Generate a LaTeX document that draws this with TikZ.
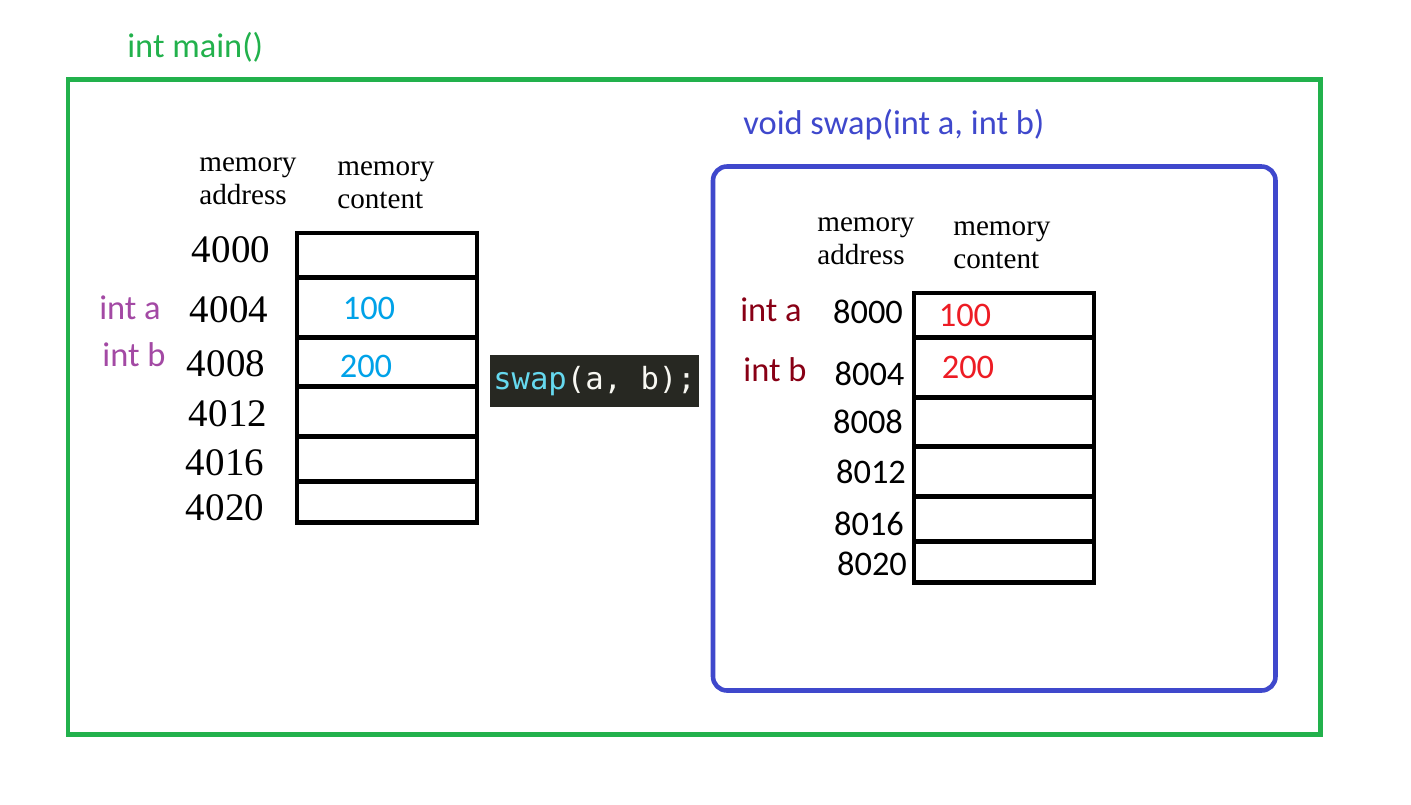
\documentclass[tikz,border=0pt]{standalone}
\usepackage{fontspec}
\setmainfont{Liberation Serif}
\newfontfamily\calibri{Carlito}
\newfontfamily\consolas{DejaVu Sans Mono}
\usetikzlibrary{positioning}

\definecolor{maingreen}{HTML}{22B14C}
\definecolor{swapblue}{HTML}{3F48CC}
\definecolor{varpurple}{HTML}{A349A4}
\definecolor{valblue}{HTML}{00A2E8}
\definecolor{vardarkred}{HTML}{880015}
\definecolor{valred}{HTML}{ED1C24}
\definecolor{codebg}{HTML}{272822}
\definecolor{codecyan}{HTML}{66D9EF}
\definecolor{codewhite}{HTML}{F8F8F2}

\tikzset{
	cellbox/.style={draw, line width=2.6pt, minimum width=3.6cm, inner sep=0pt, outer sep=0pt},
	heading/.style={font=\fontsize{16.6}{18.8}\selectfont, align=left, inner sep=0pt, anchor=west},
	addrserif/.style={font=\fontsize{22.2}{26}\selectfont, inner sep=0pt},
	sanslabel/.style={font=\calibri\fontsize{19.6}{23}\selectfont, inner sep=0pt}
}

\begin{document}
\begin{tikzpicture}[x=0.02cm, y=-0.02cm]
	\useasboundingbox (0,0) rectangle (1411,805);
	
	% frames
	\draw[maingreen, line width=2.6pt] (68,79.5) rectangle (1320.5,734.5);
	\node[sanslabel, text=maingreen, anchor=base west](MAIN) at (127,57){int main()};
	
	\draw[swapblue, line width=2.6pt, rounded corners=0.28cm] (713,166.5) rectangle (1275.5,690.5);
	\node[sanslabel, text=swapblue, anchor=base west](SWAP) at (743,134){void swap(int a, int b)};
	
	% main memory
	\node[heading](HA1) at (199,181){memory\\address};
	\node[heading](HC1) at (337,185){memory\\content};
	
	\node[cellbox, anchor=north west, minimum height=0.89cm](CA1) at (297,233){};
	\node[cellbox, below=0pt of CA1, minimum height=1.2cm](CA2){};
	\node[cellbox, below=0pt of CA2, minimum height=0.984cm](CA3){};
	\node[cellbox, below=0pt of CA3, minimum height=0.992cm](CA4){};
	\node[cellbox, below=0pt of CA4, minimum height=0.908cm](CA5){};
	\node[cellbox, below=0pt of CA5, minimum height=0.816cm](CA6){};
	
	\node[addrserif](AA1) at (231,250){4000};
	\node[addrserif](AA2) at (229,310){4004};
	\node[addrserif](AA3) at (226,364){4008};
	\node[addrserif](AA4) at (228,414){4012};
	\node[addrserif](AA5) at (225,463){4016};
	\node[addrserif](AA6) at (225,508){4020};
	
	\node[sanslabel, text=varpurple](VA1) at (130,308){int a};
	\node[sanslabel, text=varpurple](VA2) at (134,355){int b};
	\node[sanslabel, text=valblue](NA1) at (369,308){100};
	\node[sanslabel, text=valblue](NA2) at (366,366){200};
	
	% call
	\node[fill=codebg, minimum width=4.18cm, minimum height=1.04cm, inner sep=0pt, text=codewhite, font=\consolas\fontsize{17.4}{20}\selectfont](CALL) at (594.5,381){\textcolor{codecyan}{swap}(a, b);};
	
	% swap memory
	\node[heading](HA2) at (817,241){memory\\address};
	\node[heading](HC2) at (953,245){memory\\content};
	
	\node[cellbox, anchor=north west, minimum height=0.89cm](CB1) at (914,293){};
	\node[cellbox, below=0pt of CB1, minimum height=1.2cm](CB2){};
	\node[cellbox, below=0pt of CB2, minimum height=0.984cm](CB3){};
	\node[cellbox, below=0pt of CB3, minimum height=0.992cm](CB4){};
	\node[cellbox, below=0pt of CB4, minimum height=0.908cm](CB5){};
	\node[cellbox, below=0pt of CB5, minimum height=0.816cm](CB6){};
	
	\node[sanslabel](AB1) at (868,312){8000};
	\node[sanslabel](AB2) at (869.5,374){8004};
	\node[sanslabel](AB3) at (868,422){8008};
	\node[sanslabel](AB4) at (871,472){8012};
	\node[sanslabel](AB5) at (869,524){8016};
	\node[sanslabel](AB6) at (872,564){8020};
	
	\node[sanslabel, text=vardarkred](VB1) at (771,310){int a};
	\node[sanslabel, text=vardarkred](VB2) at (775,370){int b};
	\node[sanslabel, text=valred](NB1) at (965,315){100};
	\node[sanslabel, text=valred](NB2) at (968,367){200};
\end{tikzpicture}
\end{document}
